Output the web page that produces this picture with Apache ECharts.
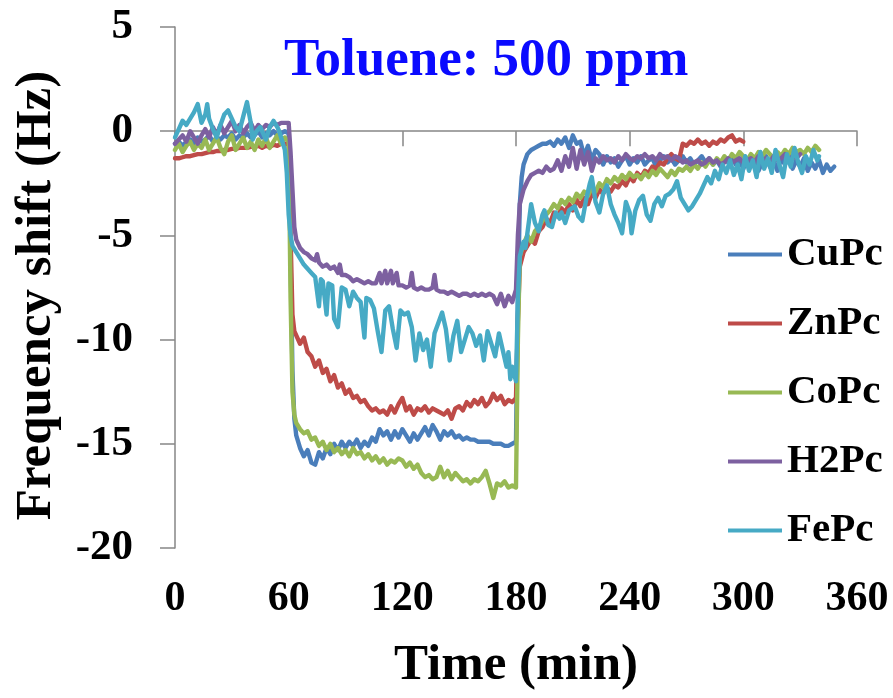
<!DOCTYPE html>
<html>
<head>
<meta charset="utf-8">
<title>Toluene: 500 ppm</title>
<script src="https://cdn.jsdelivr.net/npm/echarts@6/dist/echarts.min.js"></script>
<style>
  html, body { margin: 0; padding: 0; background: #fff; }
  #chart { width: 893px; height: 698px; }
</style>
</head>
<body>
<div id="chart"></div>
<script>
// Frequency shift of phthalocyanine-coated sensors during toluene exposure.
// Each series: [time (min), frequency shift (Hz)]

const seriesNames = ['CuPc', 'ZnPc', 'CoPc', 'H2Pc', 'FePc'];
const seriesColors = ['#4A7EBB', '#BE4B48', '#98B954', '#7D60A0', '#46AAC5'];
const xTicks = [0, 60, 120, 180, 240, 300, 360];
const yTicks = [-20, -15, -10, -5, 0, 5];

const cuPc = [
  [0,-0.6],[2,-0.5],[4,-0.7],[6,-0.5],[8,-0.4],[10,-0.6],[12,-0.3],[14,-0.5],[16,-0.4],[18,-0.2],
  [20,-0.5],[22,-0.3],[24,-0.4],[26,-0.2],[28,-0.3],[30,-0.1],[32,-0.4],[34,-0.2],[36,-0.3],[38,-0.1],
  [40,-0.3],[42,-0.2],[44,0.0],[46,-0.3],[48,-0.1],[50,-0.2],[52,0.0],[54,-0.2],[56,-0.1],[58,0.0],[60,-0.1],
  [61,-6.0],[62,-11.5],[63,-13.8],[64,-14.6],[66,-15.2],[68,-15.6],[70,-15.3],[72,-15.9],[74,-16.0],[76,-15.4],
  [78,-15.7],[80,-15.2],[82,-15.5],[84,-15.0],[86,-15.3],[88,-14.9],[90,-15.2],[92,-14.9],[94,-15.1],[96,-14.8],
  [98,-15.2],[100,-14.9],[102,-15.1],[104,-14.7],[106,-14.9],[108,-14.3],[110,-14.6],[112,-14.4],[114,-14.8],[116,-14.4],
  [118,-14.7],[120,-14.3],[122,-14.6],[124,-14.9],[126,-14.5],[128,-14.8],[130,-14.5],[132,-14.2],[134,-14.6],[136,-14.1],
  [138,-14.4],[140,-14.8],[142,-14.4],[144,-14.6],[146,-14.4],[148,-14.7],[150,-14.6],[152,-14.8],[154,-14.7],[156,-14.8],
  [158,-14.8],[160,-14.9],[162,-14.9],[164,-14.9],[166,-14.9],[168,-15.0],[170,-15.0],[172,-15.0],[174,-15.1],[176,-15.1],
  [178,-15.0],[180,-14.9],
  [181,-8.0],[182,-3.5],[183,-2.2],[184,-1.6],[186,-1.1],[188,-0.9],[190,-0.8],[192,-0.7],[194,-0.6],[196,-0.6],
  [198,-0.5],[200,-0.7],[202,-0.4],[204,-0.6],[206,-0.3],[208,-0.8],[210,-0.2],[212,-0.6],[214,-0.5],[216,-1.2],
  [218,-0.7],[220,-1.4],[222,-0.9],[224,-1.1],[226,-1.6],[228,-1.2],[230,-1.5],[232,-1.3],[234,-1.7],[236,-1.4],
  [238,-1.2],[240,-1.6],[242,-1.3],[244,-1.5],[246,-1.2],[248,-1.6],[250,-1.4],[252,-1.3],[254,-1.7],[256,-1.4],
  [258,-1.2],[260,-1.5],[262,-1.3],[264,-1.6],[266,-1.4],[268,-1.2],[270,-1.5],[272,-1.3],[274,-1.6],[276,-1.4],
  [278,-1.2],[280,-1.5],[282,-1.3],[284,-1.6],[286,-1.4],[288,-1.7],[290,-1.3],[292,-1.5],[294,-1.2],[296,-1.6],
  [298,-1.4],[300,-1.8],[302,-1.3],[304,-1.6],[306,-1.4],[308,-1.9],[310,-1.5],[312,-1.2],[314,-1.7],[316,-1.4],
  [318,-1.9],[320,-1.3],[322,-1.6],[324,-1.2],[326,-1.8],[328,-1.4],[330,-1.7],[332,-1.3],[334,-1.9],[336,-1.5],
  [338,-1.8],[340,-1.4],[342,-2.0],[344,-1.6],[346,-1.9],[348,-1.7]
];

const znPc = [
  [0,-1.3],[2,-1.3],[4,-1.25],[6,-1.2],[8,-1.2],[10,-1.15],[12,-1.1],[14,-1.1],[16,-1.05],[18,-1.0],
  [20,-1.0],[22,-0.95],[24,-0.95],[26,-0.9],[28,-0.9],[30,-0.85],[32,-0.85],[34,-0.8],[36,-0.8],[38,-0.8],
  [40,-0.75],[42,-0.75],[44,-0.7],[46,-0.8],[48,-0.7],[50,-0.75],[52,-0.65],[54,-0.7],[56,-0.6],[58,-0.6],[60,-0.6],
  [61,-5.0],[62,-8.8],[63,-9.6],[64,-9.8],[66,-10.2],[68,-9.9],[70,-10.6],[72,-10.8],[74,-11.3],[76,-11.0],
  [78,-11.6],[80,-11.4],[82,-12.0],[84,-11.7],[86,-12.3],[88,-12.1],[90,-12.6],[92,-12.4],[94,-12.8],[96,-12.7],
  [98,-13.0],[100,-12.9],[102,-13.2],[104,-13.4],[106,-13.3],[108,-13.5],[110,-13.4],[112,-13.6],[114,-13.2],[116,-13.5],
  [118,-13.1],[120,-12.8],[122,-13.4],[124,-13.2],[126,-13.6],[128,-13.3],[130,-13.4],[132,-13.2],[134,-13.5],[136,-13.3],
  [138,-13.4],[140,-13.5],[142,-13.6],[144,-13.4],[146,-13.8],[148,-13.3],[150,-13.2],[152,-13.4],[154,-13.0],[156,-13.2],
  [158,-12.9],[160,-13.1],[162,-12.8],[164,-13.2],[166,-13.0],[168,-12.6],[170,-12.9],[172,-12.7],[174,-13.1],[176,-12.9],
  [178,-13.0],[180,-12.8],
  [181,-9.0],[182,-6.5],[184,-5.8],[186,-5.5],[188,-5.2],[190,-5.4],[192,-4.8],[194,-4.6],[196,-4.2],[198,-4.4],
  [200,-3.9],[202,-4.1],[204,-3.7],[206,-3.9],[208,-3.5],[210,-3.8],[212,-3.3],[214,-3.6],[216,-3.2],[218,-3.5],
  [220,-3.0],[222,-3.2],[224,-2.8],[226,-3.0],[228,-2.7],[230,-2.9],[232,-2.6],[234,-2.7],[236,-2.4],[238,-2.6],
  [240,-2.2],[242,-2.4],[244,-2.0],[246,-2.2],[248,-1.9],[250,-2.0],[252,-1.7],[254,-1.8],[256,-1.5],[258,-1.6],
  [260,-1.3],[262,-1.1],[264,-1.3],[266,-1.4],[268,-0.6],[270,-0.7],[272,-0.5],[274,-0.6],[276,-0.4],[278,-0.6],
  [280,-0.5],[282,-0.7],[284,-0.5],[286,-0.6],[288,-0.4],[290,-0.5],[292,-0.3],[294,-0.2],[296,-0.5],[298,-0.4],[300,-0.5]
];

const coPc = [
  [0,-0.9],[2,-0.6],[4,-1.0],[6,-0.7],[8,-0.5],[10,-0.9],[12,-0.6],[14,-0.8],[16,-0.4],[18,-0.9],
  [20,-0.6],[22,-0.3],[24,-0.8],[26,-1.1],[28,-0.5],[30,-0.2],[32,-0.9],[34,-0.6],[36,-0.3],[38,-0.8],
  [40,-0.5],[42,-0.9],[44,-0.4],[46,-0.7],[48,-0.3],[50,-0.8],[52,-0.5],[54,-0.2],[56,-0.6],[58,-0.3],[60,-0.5],
  [61,-8.0],[62,-12.5],[63,-13.6],[64,-14.0],[66,-14.3],[68,-14.5],[70,-14.4],[72,-14.8],[74,-14.7],[76,-15.1],
  [78,-14.9],[80,-15.3],[82,-15.0],[84,-15.4],[86,-15.2],[88,-15.5],[90,-15.3],[92,-15.6],[94,-15.2],[96,-15.5],
  [98,-15.4],[100,-15.7],[102,-15.5],[104,-15.8],[106,-15.6],[108,-15.9],[110,-15.7],[112,-16.0],[114,-15.8],[116,-15.9],
  [118,-15.7],[120,-15.8],[122,-16.1],[124,-15.9],[126,-16.2],[128,-16.0],[130,-16.4],[132,-16.6],[134,-16.5],[136,-16.7],
  [138,-16.6],[140,-16.1],[142,-16.6],[144,-16.3],[146,-16.7],[148,-16.4],[150,-16.6],[152,-16.8],[154,-16.7],[156,-16.9],
  [158,-16.7],[160,-16.8],[162,-16.6],[164,-16.3],[166,-16.9],[168,-17.6],[170,-16.9],[172,-17.0],[174,-16.8],[176,-17.1],
  [178,-17.0],[180,-17.1],
  [181,-10.0],[182,-6.0],[184,-5.4],[186,-5.0],[188,-5.3],[190,-4.8],[192,-4.6],[194,-4.3],[196,-4.0],[198,-3.8],
  [200,-3.5],[202,-3.7],[204,-3.3],[206,-3.5],[208,-3.2],[210,-3.4],[212,-3.0],[214,-3.2],[216,-2.9],[218,-3.1],
  [220,-2.7],[222,-2.9],[224,-2.5],[226,-2.7],[228,-2.3],[230,-2.5],[232,-2.2],[234,-2.4],[236,-2.1],[238,-2.3],
  [240,-2.0],[242,-2.2],[244,-2.1],[246,-2.3],[248,-2.0],[250,-2.2],[252,-1.9],[254,-2.1],[256,-1.8],[258,-2.0],
  [260,-2.2],[262,-1.9],[264,-2.1],[266,-1.8],[268,-1.9],[270,-1.7],[272,-1.9],[274,-1.6],[276,-1.8],[278,-1.5],
  [280,-1.7],[282,-1.4],[284,-1.6],[286,-1.3],[288,-1.5],[290,-1.2],[292,-1.4],[294,-1.1],[296,-1.3],[298,-1.0],
  [300,-1.2],[302,-1.4],[304,-1.1],[306,-1.3],[308,-1.0],[310,-1.2],[312,-0.9],[314,-1.1],[316,-1.3],[318,-1.0],
  [320,-1.2],[322,-0.9],[324,-1.1],[326,-0.8],[328,-1.0],[330,-0.9],[332,-1.1],[334,-0.8],[336,-1.0],[338,-0.7],[340,-0.9]
];

const h2Pc = [
  [0,-0.6],[2,-0.4],[4,-0.2],[6,-0.5],[8,0.0],[10,-0.3],[12,-0.6],[14,-0.2],[16,0.1],[18,-0.3],
  [20,0.2],[22,-0.2],[24,0.3],[26,-0.1],[28,0.2],[30,0.5],[32,0.0],[34,0.3],[36,-0.1],[38,0.2],
  [40,0.4],[42,0.0],[44,0.3],[46,0.1],[48,0.3],[50,0.2],[52,0.4],[54,0.3],[56,0.4],[58,0.4],[60,0.4],
  [61,-1.0],[62,-2.8],[63,-4.6],[64,-5.2],[66,-5.6],[68,-5.8],[70,-5.9],[72,-6.1],[74,-6.2],[75,-5.9],
  [76,-6.3],[78,-6.5],[80,-6.4],[82,-6.6],[84,-6.5],[86,-6.8],[87,-6.4],[88,-6.9],[90,-6.9],[92,-7.0],
  [94,-7.2],[96,-7.1],[98,-7.2],[100,-7.3],[102,-7.2],[104,-7.3],[106,-7.3],[108,-6.8],[109,-7.3],[111,-6.7],
  [112,-7.3],[114,-6.7],[115,-7.3],[117,-6.8],[118,-7.4],[120,-7.4],[122,-7.5],[124,-7.4],[125,-6.8],[126,-7.5],
  [128,-7.6],[130,-7.5],[132,-7.6],[134,-7.6],[136,-7.5],[137,-6.9],[138,-7.6],[140,-7.7],[142,-7.7],[144,-7.8],
  [146,-7.7],[148,-7.8],[150,-7.9],[152,-7.8],[154,-7.8],[156,-7.9],[158,-7.8],[160,-7.9],[162,-7.8],[164,-7.9],
  [166,-7.8],[168,-7.9],[170,-8.3],[172,-7.8],[174,-8.4],[176,-7.9],[178,-8.2],[180,-7.6],
  [181,-5.0],[182,-3.5],[184,-2.8],[186,-2.4],[188,-2.1],[190,-2.0],[192,-1.9],[194,-2.0],[196,-1.7],[198,-1.9],
  [200,-1.8],[202,-1.4],[204,-1.9],[206,-1.2],[208,-1.7],[210,-0.8],[212,-1.8],[214,-0.9],[216,-1.6],[218,-1.0],
  [220,-1.9],[222,-1.3],[224,-1.5],[226,-1.2],[228,-1.4],[230,-1.3],[232,-1.5],[234,-1.2],[236,-1.4],[238,-1.1],
  [240,-1.3],[242,-1.4],[244,-1.2],[246,-1.3],[248,-1.1],[250,-1.3],[252,-1.2],[254,-1.4],[256,-1.1],[258,-1.3],
  [260,-1.2],[262,-1.4],[264,-1.2],[266,-1.3],[268,-1.5],[270,-1.4],[272,-1.6],[274,-1.5],[276,-1.4],[278,-1.6],
  [280,-1.5],[282,-1.3],[284,-1.5],[286,-1.4],[288,-1.6],[290,-1.5],[292,-1.3],[294,-1.5],[296,-1.4],[298,-1.3],
  [300,-1.5],[302,-1.4],[304,-1.3],[306,-1.5],[308,-1.2],[310,-1.4],[312,-1.3],[314,-1.5],[316,-1.2],[318,-1.4],
  [320,-1.3],[322,-1.1],[324,-1.4],[326,-1.2],[328,-1.3],[330,-1.1]
];

const fePc = [
  [0,-0.3],[2,0.1],[4,0.5],[6,0.3],[8,0.6],[10,0.9],[12,1.3],[14,0.4],[16,0.8],[17,1.3],
  [18,0.6],[20,0.1],[22,-0.3],[24,0.3],[26,0.8],[28,1.0],[30,0.6],[32,0.2],[34,0.0],[36,0.7],
  [38,1.4],[40,0.4],[41,-0.4],[43,0.0],[45,0.2],[47,-0.2],[48,-0.4],[50,0.2],[52,0.5],[54,0.2],
  [55,0.0],[57,-0.6],[58,-0.9],[59,-2.0],[60,-4.0],
  [61,-5.0],[62,-5.5],[64,-5.8],[66,-6.1],[68,-6.4],[70,-6.6],[72,-6.8],[74,-7.0],[76,-8.4],[77,-7.1],
  [78,-7.2],[80,-8.8],[81,-7.3],[83,-7.4],[84,-9.0],[86,-9.4],[88,-7.5],[90,-7.6],[92,-8.4],[94,-7.7],
  [96,-8.0],[98,-8.2],[100,-9.9],[101,-8.0],[103,-8.1],[105,-8.5],[107,-9.6],[109,-10.6],[111,-8.6],[113,-8.4],
  [115,-9.5],[117,-10.4],[119,-8.6],[121,-8.8],[123,-8.7],[125,-9.4],[127,-11.0],[129,-9.7],[131,-10.5],[133,-10.0],
  [135,-11.3],[137,-9.7],[139,-9.2],[141,-8.7],[143,-9.5],[145,-11.0],[147,-9.8],[149,-9.1],[151,-10.6],[153,-10.0],
  [155,-9.4],[157,-9.7],[159,-10.3],[161,-9.8],[163,-11.0],[165,-9.6],[167,-10.2],[169,-10.8],[171,-9.7],[173,-10.5],
  [175,-11.3],[176,-10.6],[177,-11.9],[178,-11.3],[180,-12.0],
  [181,-8.0],[182,-6.0],[184,-5.3],[185,-5.6],[187,-4.2],[188,-3.5],[190,-4.4],[192,-4.8],[194,-4.0],[195,-3.8],
  [197,-4.5],[199,-4.6],[201,-3.9],[203,-4.2],[204,-3.9],[206,-4.4],[208,-3.8],[211,-3.6],[213,-4.1],[215,-4.3],
  [217,-3.3],[219,-2.5],[220,-2.2],[222,-3.4],[224,-3.9],[226,-3.0],[228,-2.6],[230,-3.5],[232,-4.0],[234,-4.4],
  [236,-4.9],[238,-3.4],[240,-3.9],[241,-4.9],[243,-3.8],[245,-3.3],[247,-3.1],[249,-4.0],[251,-4.3],[253,-3.5],
  [255,-3.2],[257,-3.6],[259,-3.1],[261,-3.0],[263,-2.8],[265,-2.4],[267,-3.2],[269,-3.5],[271,-3.8],[273,-3.6],
  [275,-3.3],[277,-3.0],[279,-2.6],[281,-2.2],[283,-2.5],[285,-1.9],[287,-2.3],[289,-1.6],[291,-2.0],[293,-1.4],
  [295,-2.1],[297,-1.6],[299,-2.3],[301,-1.2],[303,-1.9],[305,-1.4],[307,-2.2],[309,-1.0],[311,-1.8],[313,-1.3],
  [315,-2.0],[317,-0.9],[319,-1.6],[321,-2.2],[323,-1.1],[325,-1.7],[327,-0.8],[329,-1.5],[331,-2.0],[333,-1.2],
  [335,-1.6],[337,-0.9],[339,-1.4],[340,-1.2]
];

const seriesData = [cuPc, znPc, coPc, h2Pc, fePc];

const serif = "'Liberation Serif', 'Times New Roman', serif";
const axisGray = '#868686';

const chart = echarts.init(document.getElementById('chart'), null, { renderer: 'canvas' });

chart.setOption({
  animation: false,
  backgroundColor: '#ffffff',
  title: {
    text: 'Toluene: 500 ppm',
    left: 279,
    top: 30,
    textStyle: { color: '#0a0aff', fontFamily: serif, fontWeight: 'bold', fontSize: 53 }
  },
  legend: {
    orient: 'vertical',
    left: 723,
    top: 229,
    itemGap: 28,
    itemWidth: 54,
    itemHeight: 4,
    icon: 'rect',
    data: seriesNames,
    textStyle: { color: '#000', fontFamily: serif, fontWeight: 'bold', fontSize: 41, padding: [0, 0, 0, 0] }
  },
  grid: { left: 175, right: 36, top: 27, bottom: 150, containLabel: false },
  xAxis: {
    type: 'value',
    min: xTicks[0],
    max: xTicks[xTicks.length - 1],
    interval: 60,
    name: 'Time (min)',
    nameLocation: 'middle',
    nameGap: 92,
    nameTextStyle: { color: '#000', fontFamily: serif, fontWeight: 'bold', fontSize: 51 },
    axisLine: { show: true, lineStyle: { color: axisGray, width: 1.5 } },
    axisTick: { show: true, inside: false, length: 15, lineStyle: { color: axisGray, width: 1.5 } },
    axisLabel: { color: '#000', fontFamily: serif, fontWeight: 'bold', fontSize: 42, margin: 30 },
    splitLine: { show: false }
  },
  yAxis: {
    type: 'value',
    min: yTicks[0],
    max: yTicks[yTicks.length - 1],
    interval: 5,
    name: 'Frequency shift (Hz)',
    nameLocation: 'middle',
    nameGap: 113,
    nameRotate: 90,
    nameTextStyle: { color: '#000', fontFamily: serif, fontWeight: 'bold', fontSize: 51, padding: [0, 16, 0, 0] },
    axisLine: { show: true, onZero: false, lineStyle: { color: axisGray, width: 1.5 } },
    axisTick: { show: true, inside: false, length: 15, lineStyle: { color: axisGray, width: 1.5 } },
    axisLabel: { color: '#000', fontFamily: serif, fontWeight: 'bold', fontSize: 43, margin: 42 },
    splitLine: { show: false }
  },
  series: seriesNames.map((name, i) => ({
    name: name,
    type: 'line',
    data: seriesData[i],
    showSymbol: false,
    symbol: 'none',
    color: seriesColors[i],
    lineStyle: { color: seriesColors[i], width: 4.4, join: 'round', cap: 'round' },
    emphasis: { disabled: true }
  }))
});
</script>
</body>
</html>
